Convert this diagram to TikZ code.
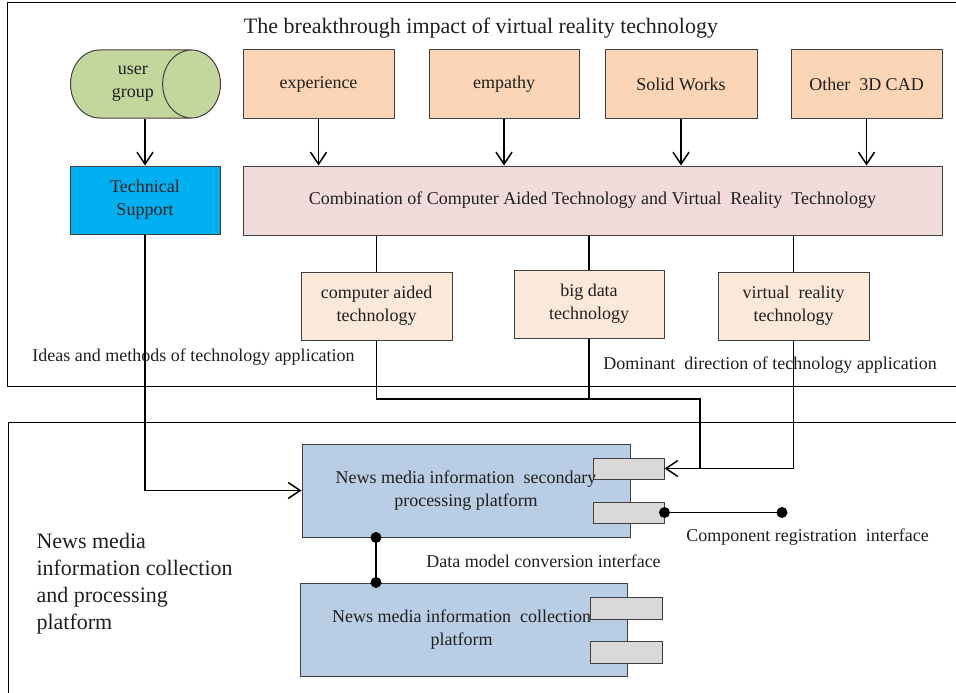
\documentclass[tikz,border=0pt]{standalone}
\usepackage{fontspec}
\setmainfont{Liberation Serif}
\usetikzlibrary{arrows.meta,shapes.geometric}

\definecolor{ugreen}{HTML}{C3D69B}
\definecolor{tcyan}{HTML}{00B0F0}
\definecolor{peach}{HTML}{FBD5B5}
\definecolor{lpeach}{HTML}{FDE9D9}
\definecolor{lpink}{HTML}{F2DCDB}
\definecolor{lblue}{HTML}{B9CDE5}
\definecolor{portgray}{HTML}{D9D9D9}

\begin{document}
\begin{tikzpicture}[x=1pt,y=-1pt,
    every node/.style={font=\fontsize{18}{23}\selectfont, text=black!88},
    box/.style={draw=black!75, line width=1pt, minimum width=151pt, minimum height=68pt, align=center, inner sep=2pt},
    port/.style={draw=black!75, line width=1pt, fill=portgray, minimum width=71pt, minimum height=21pt, inner sep=0pt},
    link/.style={line width=1.5pt},
    arr/.style={link, -{Straight Barb[length=12pt,width=16pt]}}]
    \useasboundingbox (0,0) rectangle (956,693);

    % Frames
    \draw[line width=1pt] (956,3) -- (7,3) -- (7,386) -- (956,386);
    \draw[line width=1pt] (956,422) -- (8,422) -- (8,693);

    % Upper part
    \node[font=\fontsize{22}{26}\selectfont] (title) at (481,28) {The breakthrough impact of virtual reality technology};
    \node[box, shape=cylinder, cylinder uses custom fill, cylinder body fill=ugreen, cylinder end fill=ugreen,
        aspect=1.47, minimum width=68pt, minimum height=150pt, anchor=west] (ug) at (70,84)
        {\hspace*{14pt}user\\\hspace*{14pt}group};
    \node[box, fill=tcyan, minimum width=150pt] (ts) at (145,200) {Technical\\Support};

    \node[box, fill=peach] (exp) at (318.5,84) {experience};
    \node[box, fill=peach, minimum width=150pt] (emp) at (504,84) {empathy};
    \node[box, fill=peach, minimum width=152pt] (sw) at (681,84) {Solid Works};
    \node[box, fill=peach] (cad) at (866.5,84) {Other~ 3D CAD};
    \node[box, fill=lpink, minimum width=699pt, minimum height=69pt] (comb) at (592.5,200.5)
        {Combination of Computer Aided Technology and Virtual~ Reality~ Technology};

    \node[box, fill=lpeach] (cat) at (376.5,306) {computer aided\\technology};
    \node[box, fill=lpeach, minimum width=150pt] (bdt) at (589,304) {big data\\technology};
    \node[box, fill=lpeach] (vrt) at (793.5,306) {virtual~ reality\\technology};

    \node (ideas) at (193.5,357) {Ideas and methods of technology application};
    \node (dom) at (770,365) {Dominant~ direction of technology application};

    \draw[arr] (ts.north |- ug.south) -- (ts.north);
    \foreach \n in {exp,emp,sw,cad}
        \draw[arr] (\n) -- (\n |- comb.north);
    \foreach \n in {cat,bdt,vrt}
        \draw[link] (comb.south -| \n) -- (\n);

    % Lower part
    \node[box, fill=lblue, minimum width=328pt, minimum height=93pt] (sec) at (466,490.5) {};
    \node[port] (sp1) at (628.5,468.5) {};
    \node[port] (sp2) at (628.5,512.5) {};
    \node[align=center] (sectxt) at (466,490.5) {News media information~ secondary\\processing platform};

    \node[box, fill=lblue, minimum width=327pt, minimum height=93pt] (col) at (463.5,629.5) {};
    \node[port, minimum width=72pt, minimum height=22pt] (cp1) at (626,608) {};
    \node[port, minimum width=72pt, minimum height=22pt] (cp2) at (626,652) {};
    \node[align=center] (coltxt) at (461.5,629.5) {News media information~ collection\\platform};

    \node[font=\fontsize{22}{27}\selectfont, align=left, anchor=west] (plat) at (33,584)
        {News media\\information collection\\and processing\\platform};
    \node (dmc) at (543.5,561) {Data model conversion interface};
    \node (crl) at (807.5,537) {Component registration~ interface};

    % Connectors
    \coordinate (j1) at (589,399);
    \coordinate (j2) at (700,399);
    \coordinate (reg) at (782,512.5);
    \coordinate (mid) at (376,560);
    \draw[link] (cat) |- (j1);
    \draw[link] (bdt) -- (j1);
    \draw[line width=2.5pt] (j1) -- (j2) -- (j2 |- sp1.east);
    \draw[arr] (vrt) |- (sp1.east);
    \draw[arr] (ts) |- (sec.west);

    \draw[link] (sec.south -| mid) -- (col.north -| mid);
    \fill (sec.south -| mid) circle[radius=5.5pt] (col.north -| mid) circle[radius=5.5pt];
    \draw[link] (sp2.east) -- (reg);
    \fill (sp2.east) circle[radius=5.5pt] (reg) circle[radius=5.5pt];
\end{tikzpicture}
\end{document}
